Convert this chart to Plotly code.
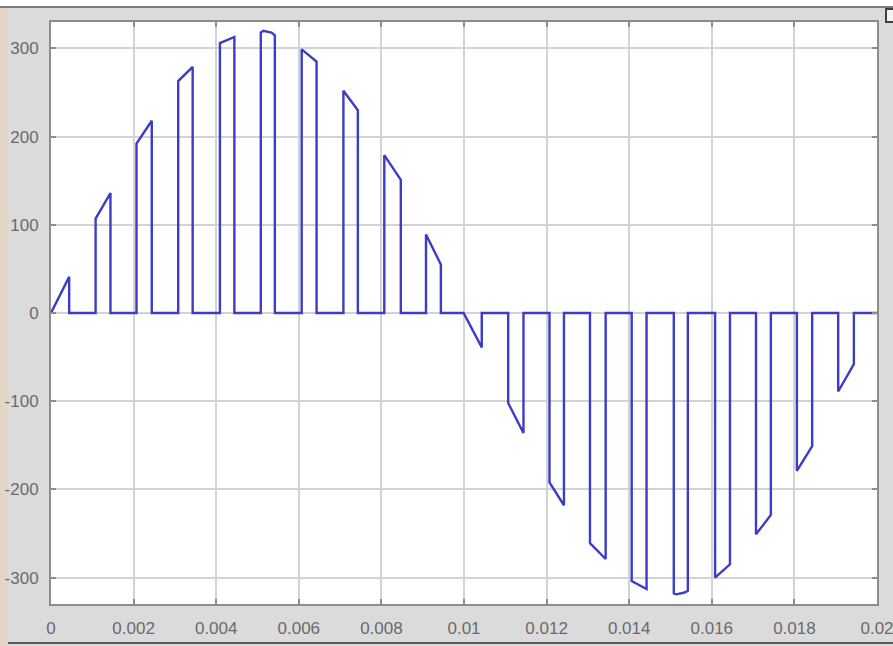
import plotly.graph_objects as go

# Bipolar PWM output voltage over one 50 Hz cycle.
# Each pulse: switch-on time, switch-off time, voltage at switch-on, voltage at switch-off.
pulse_on = [0.0, 0.00108, 0.00207, 0.00308, 0.00409, 0.00508, 0.00607, 0.00708, 0.00807, 0.00908,
            0.00999, 0.01107, 0.01207, 0.01305, 0.01406, 0.01508, 0.01608, 0.01707, 0.01806, 0.01906]
pulse_off = [0.00044, 0.00144, 0.00244, 0.00343, 0.00444, 0.00542, 0.00643, 0.00743, 0.00847, 0.00944,
             0.01043, 0.01144, 0.01242, 0.01343, 0.01442, 0.01542, 0.01644, 0.01743, 0.01843, 0.01944]
v_on = [0, 107, 192, 263, 306, 318, 299, 252, 179, 89,
        0, -102, -192, -261, -304, -318, -300, -251, -179, -89]
v_off = [41, 136, 218, 279, 313, 315, 285, 230, 151, 55,
         -39, -136, -218, -279, -313, -315, -285, -229, -151, -58]

# Extra samples along the rounded crests of the two peak pulses
crest_pulse = [5, 5, 15, 15]
crest_t = [0.00514, 0.00534, 0.01514, 0.01534]
crest_v = [320, 318, -319, -317]

t_end = 0.02

x_ticks = [0, 0.002, 0.004, 0.006, 0.008, 0.01, 0.012, 0.014, 0.016, 0.018, 0.02]
x_tick_text = ["0", "0.002", "0.004", "0.006", "0.008", "0.01", "0.012", "0.014", "0.016", "0.018", "0.02"]
y_ticks = [-300, -200, -100, 0, 100, 200, 300]
y_tick_text = ["-300", "-200", "-100", "0", "100", "200", "300"]

# Build the stepped waveform: zero between pulses, sampled voltage during each pulse
xs, ys = [], []
for i in range(len(pulse_on)):
    xs += [pulse_on[i], pulse_on[i]]
    ys += [0, v_on[i]]
    for k, p in enumerate(crest_pulse):
        if p == i:
            xs.append(crest_t[k])
            ys.append(crest_v[k])
    xs += [pulse_off[i], pulse_off[i]]
    ys += [v_off[i], 0]
xs.append(t_end)
ys.append(0)

W, H = 893, 646
ML, MR, MT, MB = 51, 16, 22, 42
PW, PH = W - ML - MR, H - MT - MB


def px(xp):
    return (xp - ML) / PW


def py(yp):
    return (H - MB - yp) / PH


fig = go.Figure()
fig.add_trace(go.Scatter(
    x=xs, y=ys, mode="lines",
    line=dict(color="#3c3cc6", width=2.4),
    hoverinfo="skip", showlegend=False,
))

axis_common = dict(
    automargin=False,
    showgrid=True, gridcolor="#d3d3d3", gridwidth=1.5,
    zeroline=False,
    showline=True, mirror="ticks", linecolor="#8c8c8c", linewidth=2,
    ticks="inside", ticklen=5, tickwidth=1.5, tickcolor="#8c8c8c",
    ticklabeloverflow="allow",
    tickfont=dict(family="Liberation Sans, Arial, sans-serif", size=17, color="#6a6a6a"),
)

fig.update_xaxes(range=[0, t_end], tickvals=x_ticks, ticktext=x_tick_text,
                 ticklabelstandoff=8, **axis_common)
fig.update_yaxes(range=[-330, 330], tickvals=y_ticks, ticktext=y_tick_text,
                 ticklabelstandoff=7, **axis_common)

# Window chrome around the scope axes
shapes = [
    # white strip and dark rule along the top edge
    dict(type="rect", xref="paper", yref="paper", x0=px(0), x1=px(W), y0=py(0), y1=py(6),
         fillcolor="#ffffff", line=dict(width=0), layer="below"),
    dict(type="line", xref="paper", yref="paper", x0=px(0), x1=px(W), y0=py(7), y1=py(7),
         line=dict(color="#7a7a7a", width=2)),
    # warm strip along the left edge
    dict(type="rect", xref="paper", yref="paper", x0=px(0), x1=px(8), y0=py(8), y1=py(H),
         fillcolor="#e4d6c6", line=dict(width=0), layer="below"),
    # dark rule along the bottom edge
    dict(type="line", xref="paper", yref="paper", x0=px(8), x1=px(W), y0=py(643), y1=py(643),
         line=dict(color="#5a5a5a", width=2)),
    # small button at the top-right corner
    dict(type="rect", xref="paper", yref="paper", x0=px(886), x1=px(895), y0=py(9), y1=py(22),
         fillcolor="#f4f4f4", line=dict(color="#404040", width=2)),
]
fig.update_layout(
    width=W, height=H,
    margin=dict(l=ML, r=MR, t=MT, b=MB, autoexpand=False),
    paper_bgcolor="#dbdbdb", plot_bgcolor="#ffffff",
    shapes=shapes,
    showlegend=False,
)

fig.write_html("out.html")
